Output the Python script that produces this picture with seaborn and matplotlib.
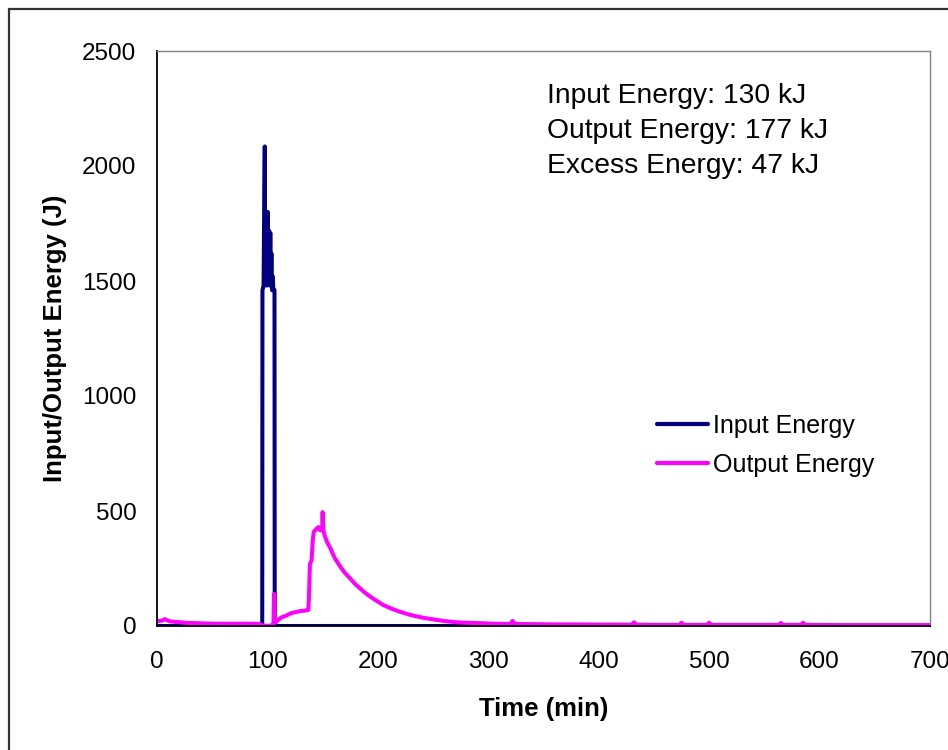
import matplotlib
matplotlib.use("Agg")
import matplotlib.pyplot as plt
from matplotlib.patches import Rectangle
import pandas as pd
import seaborn as sns

# Input energy pulse (time in min, energy in J)
input_time = [0, 95.3, 95.5, 96.5, 97.2, 97.6, 98.0, 98.6, 99.2, 99.8,
              100.4, 100.9, 101.4, 102.0, 102.6, 103.1, 103.6, 104.2, 104.8, 105.4,
              106.0, 106.4, 106.6, 700]
input_energy = [0, 0, 1460, 1480, 1900, 2085, 1550, 1700, 1480, 1650,
                1800, 1500, 1720, 1480, 1710, 1500, 1620, 1460, 1520, 1460,
                1460, 1460, 0, 0]

# Output energy trace
output_time = [0, 2, 5, 7, 9, 12, 16, 20, 25, 30,
               38, 45, 55, 65, 75, 85, 92, 94, 96, 99,
               102, 104, 105.5, 106, 106.5, 108, 110, 113, 117, 121,
               125, 130, 136, 137, 137.5, 138.5, 140, 141, 142, 144,
               146, 148, 149.5, 150, 150.6, 151.5, 154, 157, 161, 166,
               170, 175, 180, 184, 188, 193, 198, 205, 212, 220,
               228, 235, 243, 250, 258, 265, 272, 280, 288, 295,
               305, 315, 320, 322, 324, 340, 360, 380, 400, 420,
               430, 432, 434, 450, 473, 475, 477, 498, 500, 502,
               530, 563, 565, 567, 583, 585, 587, 620, 660, 700]
output_energy = [20, 22, 24, 30, 25, 20, 18, 17, 14, 13,
                 12, 11, 10, 10, 10, 10, 9, 6, 2, 1,
                 1, 3, 8, 140, 40, 18, 28, 38, 45, 55,
                 60, 65, 68, 70, 110, 270, 285, 370, 410, 420,
                 430, 415, 422, 495, 420, 398, 365, 338, 295, 258,
                 232, 206, 180, 163, 146, 128, 112, 91, 76, 62,
                 50, 42, 34, 29, 23, 19, 16, 14, 13, 12,
                 10, 9, 9, 22, 9, 8, 7, 7, 6, 6,
                 6, 16, 6, 5, 5, 14, 5, 5, 14, 5,
                 5, 5, 13, 5, 5, 14, 5, 4, 4, 4]

series_names = ["Input Energy", "Output Energy"]
series_colors = ["#000080", "#FF00FF"]
summary_lines = ["Input Energy: 130 kJ",
                 "Output Energy: 177 kJ",
                 "Excess Energy: 47 kJ"]
x_ticks = [0, 100, 200, 300, 400, 500, 600, 700]
y_ticks = [0, 500, 1000, 1500, 2000, 2500]

df = pd.concat([
    pd.DataFrame({"Time": input_time, "Energy": input_energy, "Series": series_names[0]}),
    pd.DataFrame({"Time": output_time, "Energy": output_energy, "Series": series_names[1]}),
], ignore_index=True)

sns.set_theme(style="white")
plt.rcParams["font.family"] = ["Liberation Sans", "DejaVu Sans"]
plt.rcParams["text.color"] = "black"
plt.rcParams["axes.labelcolor"] = "black"

fig = plt.figure(figsize=(9.48, 7.5), dpi=100)
ax = fig.add_axes([157 / 948, 124 / 750, 773 / 948, 575 / 750])

sns.lineplot(data=df, x="Time", y="Energy", hue="Series",
             palette=dict(zip(series_names, series_colors)),
             estimator=None, sort=False, linewidth=2.9, ax=ax)

ax.set_xlim(0, 700)
ax.set_ylim(0, 2500)
ax.set_xticks(x_ticks)
ax.set_yticks(y_ticks)
ax.tick_params(axis="both", direction="out", length=5.3, width=1,
               color="#555555", labelsize=17.5, labelcolor="black")
ax.tick_params(axis="x", pad=13)
ax.tick_params(axis="y", pad=9.5)

for side in ("left", "bottom"):
    ax.spines[side].set_color("black")
    ax.spines[side].set_linewidth(1.3)
for side in ("top", "right"):
    ax.spines[side].set_color("#808080")
    ax.spines[side].set_linewidth(1.0)

ax.set_xlabel("Time (min)", fontsize=18.5, fontweight="bold", color="black")
ax.set_ylabel("Input/Output Energy (J)", fontsize=18.5, fontweight="bold", color="black")
ax.xaxis.set_label_coords(0.5, -0.1235)
ax.yaxis.set_label_coords(-0.116, 0.5)

for i, line in enumerate(summary_lines):
    ax.text(0.5045, 0.910 - i * 0.0615, line, transform=ax.transAxes,
            fontsize=20.3, ha="left", va="baseline", color="black")

handles, labels = ax.get_legend_handles_labels()
leg = ax.legend(handles, labels, loc="center left", bbox_to_anchor=(0.647, 0.314),
                frameon=False, fontsize=18, handlelength=2.05, handletextpad=0.2,
                labelspacing=0.6, borderpad=0, borderaxespad=0)
for h in leg.get_lines():
    h.set_linewidth(3)
for t in leg.get_texts():
    t.set_color("black")

# Outer frame around the chart
fig.add_artist(Rectangle((9 / 948, -0.1), 1.2, 1.1 - 9 / 750, transform=fig.transFigure,
                         fill=False, edgecolor="#333333", linewidth=1.6))

fig.savefig("out.png", dpi=100)
